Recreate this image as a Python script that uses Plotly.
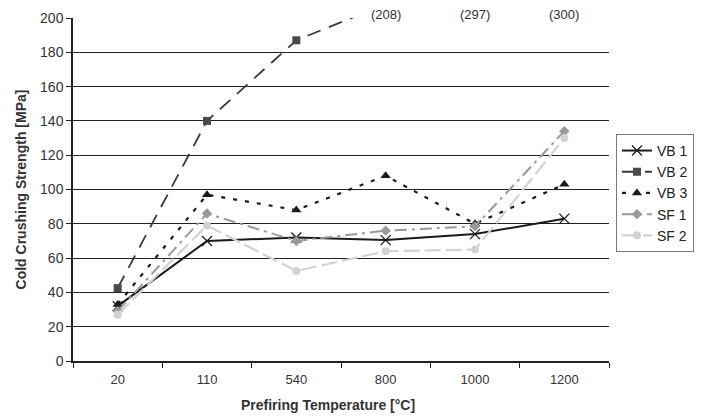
import plotly.graph_objects as go

categories = ["20", "110", "540", "800", "1000", "1200"]
vb1 = [32, 70, 72, 70.5, 74, 83]
vb2 = [42.5, 140, 187, 208, 297, 300]
vb3 = [33, 97, 88, 108, 80, 103]
sf1 = [29, 86, 70, 76, 78.5, 134]
sf2 = [27, 79, 52.5, 64, 65, 130]
offscale_labels = ["(208)", "(297)", "(300)"]
offscale_idx = [3, 4, 5]

FONT = "Arial, Liberation Sans, sans-serif"

fig = go.Figure()
fig.add_trace(go.Scatter(x=categories, y=vb1, name="VB 1", mode="lines+markers",
                         line=dict(color="#1a1a1a", width=2),
                         marker=dict(symbol="x-thin-open", size=10, line=dict(color="#1a1a1a", width=1.3))))
fig.add_trace(go.Scatter(x=categories, y=vb2, name="VB 2", mode="lines+markers",
                         line=dict(color="#3a3a3a", width=1.8, dash="14px,9px"),
                         marker=dict(symbol="square", size=8, color="#4a4a4a")))
fig.add_trace(go.Scatter(x=categories, y=vb3, name="VB 3", mode="lines+markers",
                         line=dict(color="#1a1a1a", width=2.2, dash="4px,8px"),
                         marker=dict(symbol="triangle-up", size=9, color="#1a1a1a")))
fig.add_trace(go.Scatter(x=categories, y=sf1, name="SF 1", mode="lines+markers",
                         line=dict(color="#9a9a9a", width=2, dash="12px,5px,3px,5px"),
                         marker=dict(symbol="diamond", size=8, color="#9a9a9a")))
fig.add_trace(go.Scatter(x=categories, y=sf2, name="SF 2", mode="lines+markers",
                         line=dict(color="#d2d2d2", width=2.2, dash="16px,5px"),
                         marker=dict(symbol="circle", size=8, color="#d2d2d2")))

for i, t in zip(offscale_idx, offscale_labels):
    fig.add_annotation(x=i, y=200, xref="x", yref="y", text=t, showarrow=False,
                       yanchor="middle", yshift=4,
                       font=dict(family=FONT, size=13, color="#333"))

# x-axis title placed as annotation (slightly left of plot centre, as in the reference)
fig.add_annotation(x=0.475, y=-0.128, xref="paper", yref="paper",
                   text="<b>Prefiring Temperature [°C]</b>", showarrow=False,
                   xanchor="center", yanchor="middle",
                   font=dict(family=FONT, size=14, color="#333"))

fig.update_layout(
    width=706, height=417,
    margin=dict(l=73, r=92, t=18, b=56),
    paper_bgcolor="white", plot_bgcolor="white",
    font=dict(family=FONT, size=13, color="#333"),
    legend=dict(x=1.013, y=0.662, xanchor="left", yanchor="top",
                bordercolor="#777", borderwidth=1, bgcolor="white",
                font=dict(family=FONT, size=14, color="#222"),
                tracegroupgap=0),
    xaxis=dict(type="category", tickson="boundaries", ticks="outside", ticklen=5,
               tickcolor="#222", showline=True, linecolor="#222", linewidth=1.5,
               showgrid=False, range=[-0.5, 5.5], ticklabelstandoff=6, automargin=False,
               tickfont=dict(size=13, color="#333")),
    yaxis=dict(range=[0, 200], dtick=20, ticks="outside", ticklen=5, tickcolor="#222",
               showline=True, linecolor="#222", linewidth=1.5, automargin=False,
               showgrid=True, gridcolor="#222", gridwidth=1.3, zeroline=False,
               title=dict(text="<b>Cold Crushing Strength [MPa]</b>", font=dict(size=14, color="#333"), standoff=10),
               tickfont=dict(size=14, color="#333")),
)

fig.write_html("out.html")
